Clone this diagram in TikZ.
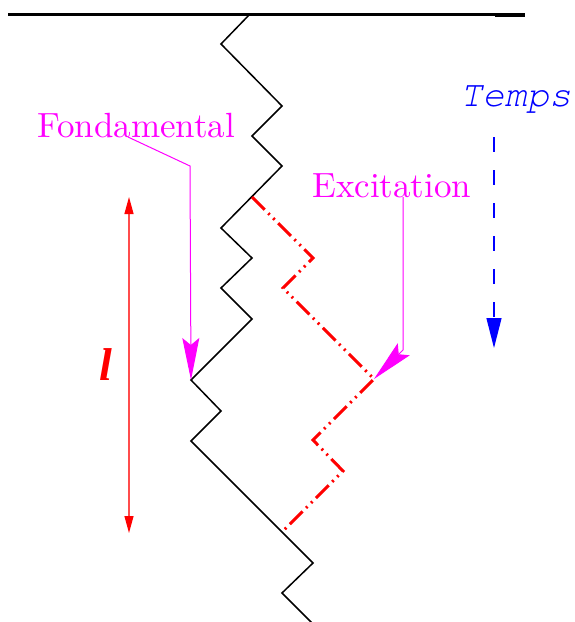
\documentclass[tikz,border=0pt]{standalone}
\usepackage{fontspec}
\newfontfamily\cmten{lmroman10-regular.otf}
\newfontfamily\courfont{texgyrecursor-italic.otf}
\newfontfamily\timesfont{Liberation Serif}
\usetikzlibrary{arrows.meta}
\definecolor{mag}{RGB}{255,0,255}
\definecolor{pred}{RGB}{255,0,0}
\definecolor{pblue}{RGB}{0,0,255}
\tikzset{
  wall/.style={line width=3pt, black},
  chain/.style={line width=1.5pt, black, line join=miter},
  excit/.style={pred, line width=3pt, dash pattern=on 18pt off 5pt on 2pt off 5pt on 2pt off 5pt},
  leader/.style={mag, line width=1pt, -{Stealth[length=42pt,width=17pt,inset=7pt]}},
  lenarrow/.style={pred!70, line width=1.2pt, {Triangle[length=17pt,width=9pt,color=pred]}-{Triangle[length=17pt,width=9pt,color=pred]}},
  timearrow/.style={pblue, line width=1.3pt, dash pattern=on 15pt off 18pt, -{Triangle[length=30pt,width=15pt]}},
  bigtext/.style={inner sep=0pt, font=\fontsize{35}{40}\cmten}
}
\begin{document}
\begin{tikzpicture}[x=1pt,y=-1pt]
\useasboundingbox (0,0) rectangle (575,622);
% wall
\coordinate (wl) at (8,14);
\coordinate (wr) at (525,14);
\coordinate (wr2) at (495,14.5);
\coordinate (wr3) at (525,14.5);
\draw[wall] (wl) -- (wr);
\draw[line width=4pt] (wr2) -- (wr3);
% chain (fundamental)
\coordinate (z0) at (250,14);
\coordinate (z1) at (221,44);
\coordinate (z2) at (282,106);
\coordinate (z3) at (252,136);
\coordinate (z4) at (282,166);
\coordinate (z5) at (221,228);
\coordinate (z6) at (252,258);
\coordinate (z7) at (221,288);
\coordinate (z8) at (252,319);
\coordinate (z9) at (191,380);
\coordinate (z10) at (221,411);
\coordinate (z11) at (191,441);
\coordinate (z12) at (313,563);
\coordinate (z13) at (282,593);
\coordinate (z14) at (312,623);
\draw[chain] (z0) -- (z1) -- (z2) -- (z3) -- (z4) -- (z5) -- (z6) -- (z7) -- (z8) -- (z9) -- (z10) -- (z11) -- (z12) -- (z13) -- (z14);
% excitation path
\coordinate (e0) at (252,197);
\coordinate (e1) at (313,258);
\coordinate (e2) at (283,288);
\coordinate (e3) at (374,379);
\coordinate (e4) at (313,440);
\coordinate (e5) at (343,471);
\coordinate (e6) at (282,532);
\draw[excit] (e0) -- (e1) -- (e2) -- (e3) -- (e4) -- (e5) -- (e6);
% labels
\node[bigtext, mag, anchor=base west] (fond) at (37,137) {Fondamental};
\node[bigtext, mag, anchor=base west] (exc) at (312,197) {Excitation};
\node[inner sep=0pt, pblue, anchor=base west, font=\fontsize{37}{40}\courfont] (temps) at (460,106) {Temps};
\node[inner sep=0pt, pred, anchor=base, font=\fontsize{46}{50}\timesfont\bfseries\itshape] (ell) at (106,380) {l};
% leaders
\coordinate (f0) at (128,137);
\coordinate (f1) at (190,166);
\draw[leader] (f0) -- (f1) -- (z9);
\coordinate (x0) at (403,197);
\coordinate (x1) at (403,350);
\draw[leader] (x0) -- (x1) -- (e3);
% length arrow
\coordinate (la) at (129,197);
\coordinate (lb) at (129,533);
\draw[lenarrow] (la) -- (lb);
% time arrow
\coordinate (ta) at (494,137);
\coordinate (tb) at (494,348);
\draw[timearrow] (ta) -- (tb);
\end{tikzpicture}
\end{document}
